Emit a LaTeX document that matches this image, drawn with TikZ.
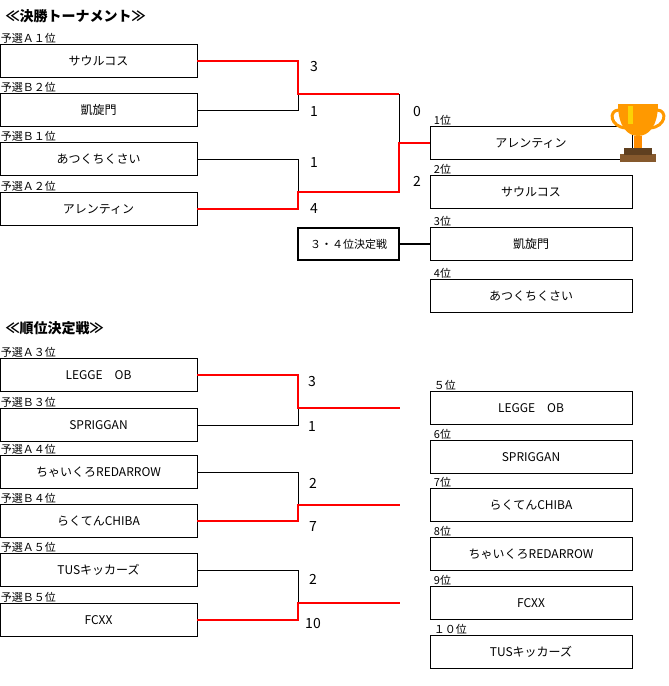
\documentclass[tikz,border=0pt]{standalone}
\usepackage{fontspec}
\setmainfont{Noto Sans CJK JP}
\begin{document}
\begin{tikzpicture}[x=1pt,y=-1pt,
  team/.style={draw,line width=0.6pt,minimum width=197pt,minimum height=33pt,inner sep=0pt,font=\fontsize{12}{13}\selectfont},
  seed/.style={anchor=south west,inner sep=1pt,font=\fontsize{11}{12}\selectfont},
  score/.style={anchor=center,font=\fontsize{14}{15}\selectfont},
  win/.style={red,line width=1.5pt},
  lose/.style={black,line width=0.8pt}]
\useasboundingbox (0,0) rectangle (669,686);
\node[anchor=west,font=\bfseries\fontsize{14}{15}\selectfont] (t1) at (2,16) {≪決勝トーナメント≫};
\node[anchor=west,font=\bfseries\fontsize{14}{15}\selectfont] (t2) at (2,328) {≪順位決定戦≫};
% left teams
\foreach \n/\y/\s/\t in {a/61/予選Ａ１位/サウルコス, b/110/予選Ｂ２位/凱旋門, c/159/予選Ｂ１位/あつくちくさい, d/209/予選Ａ２位/アレンティン,
  e/375/予選Ａ３位/LEGGE　OB, f/425/予選Ｂ３位/SPRIGGAN, g/472/予選Ａ４位/ちゃいくろREDARROW, h/521/予選Ｂ４位/らくてんCHIBA, i/570/予選Ａ５位/TUSキッカーズ, j/620/予選Ｂ５位/FCXX}{
  \node[team] (\n) at (98.5,\y) {\t};
  \node[seed] (s\n) at (\n.north west) {\s};
}
% right teams
\foreach \n/\y/\s/\t in {r1/143/1位/アレンティン, r2/192/2位/サウルコス, r3/244/3位/凱旋門, r4/296/4位/あつくちくさい,
  r5/408/５位/LEGGE　OB, r6/457/6位/SPRIGGAN, r7/505/7位/らくてんCHIBA, r8/554/8位/ちゃいくろREDARROW, r9/603/9位/FCXX, r10/652/１０位/TUSキッカーズ}{
  \node[team,minimum width=202pt] (\n) at (531,\y) {\t};
  \node[seed] (s\n) at ([xshift=3pt]\n.north west) {\s};
}
\node[draw,line width=1.5pt,minimum width=101pt,minimum height=32pt,font=\fontsize{11}{12}\selectfont] (k) at (348.5,244) {３・４位決定戦};
\draw[line width=1.5pt] (k.east) -- (r3.west);
% top bracket
\coordinate (m1) at (298,94); \coordinate (m2) at (298,192); \coordinate (fin) at (399,143);
\draw[lose] (b.east) -| (m1);
\draw[win] (a.east) -| (m1) -- (399,94);
\draw[lose] (399,94) -- (fin);
\draw[lose] (c.east) -| (m2);
\draw[win] (d.east) -| (m2) -- (399,192) -- (fin) -- (r1.west);
\node[score] (sa) at (314,67) {3}; \node[score] (sb) at (314,112) {1};
\node[score] (sc) at (314,163) {1}; \node[score] (sd) at (314,209) {4};
\node[score] (se) at (417,112) {0}; \node[score] (sf) at (417,181) {2};
% bottom
\coordinate (n1) at (298,408); \coordinate (n2) at (298,505); \coordinate (n3) at (298,603);
\coordinate (o1) at (400,408); \coordinate (o2) at (400,505); \coordinate (o3) at (400,603);
\draw[lose] (f.east) -| (n1); \draw[win] (e.east) -| (n1) -- (o1);
\draw[lose] (g.east) -| (n2); \draw[win] (h.east) -| (n2) -- (o2);
\draw[lose] (i.east) -| (n3); \draw[win] (j.east) -| (n3) -- (o3);
\node[score] at (312,382) {3}; \node[score] at (312,427) {1};
\node[score] at (313,483) {2}; \node[score] at (313,527) {7};
\node[score] at (313,579) {2}; \node[score] at (313,624) {10};
% trophy
\begin{scope}[shift={(638,132)}]
\fill[brown!70!black] (-18,22) rectangle (18,30);
\fill[brown!50!black] (-14,16) rectangle (14,23);
\fill[orange!90!yellow] (-4,4) rectangle (4,16);
\fill[orange!80!yellow] (-20,-28) -- (20,-28) .. controls (20,-5) and (10,4) .. (0,4) .. controls (-10,4) and (-20,-5) .. (-20,-28) -- cycle;
\draw[orange!80!yellow,line width=3pt] (-19,-22) .. controls (-30,-22) and (-28,-5) .. (-12,-4);
\draw[orange!80!yellow,line width=3pt] (19,-22) .. controls (30,-22) and (28,-5) .. (12,-4);
\fill[yellow!70!orange] (-10,-26) rectangle (-5,-8);
\end{scope}
\end{tikzpicture}
\end{document}
